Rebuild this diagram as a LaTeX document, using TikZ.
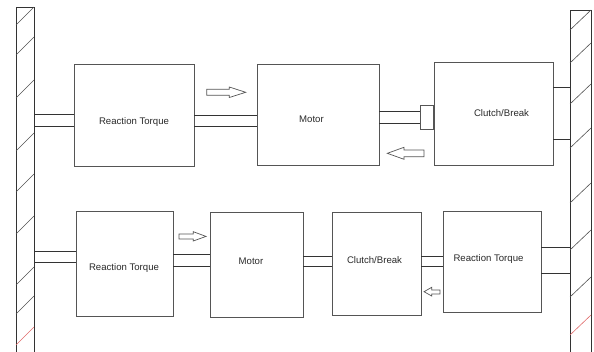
\documentclass[tikz,border=0pt]{standalone}
\usepackage{fontspec}
\setmainfont{Liberation Sans}
\definecolor{boxc}{HTML}{555555}
\definecolor{linec}{HTML}{333333}
\definecolor{txtc}{HTML}{2A2A2A}
\definecolor{hatchred}{HTML}{E06A6A}
\begin{document}
\begin{tikzpicture}[x=1pt,y=-1pt,
  box/.style={draw=boxc, line width=0.8pt, inner sep=0pt, fill=white},
  wall/.style={draw=linec, line width=0.8pt, inner sep=0pt, anchor=north west},
  shaft/.style={draw=linec, line width=0.8pt},
  hatch/.style={draw=linec!85, line width=0.6pt},
  blockarrow/.style={draw=boxc, line width=0.7pt, fill=white, line join=miter},
  lbl/.style={text=txtc, font=\fontsize{9.6}{11}\selectfont, inner sep=0pt}
]
\useasboundingbox (0,0) rectangle (594,351);

% walls
\node[wall, minimum width=18, minimum height=350] (lw) at (16,7) {};
\node[wall, minimum width=21, minimum height=350] (rw) at (570,10) {};
\foreach \t in {7,37,80,133,174,216,267,296}
  \draw[hatch] (16,\t+18) -- (34,\t);
\draw[hatch, draw=hatchred] (16,345) -- (34,327);
\foreach \t in {10,43,84,128,183,230,277}
  \draw[hatch] (570,\t+20) -- (591,\t);
\draw[hatch, draw=hatchred] (570,335) -- (591,315);

% top row
\node[box, minimum width=120, minimum height=102, label={[lbl, yshift=-7pt]center:Reaction Torque}] (rt1) at (134,115) {};
\node[box, minimum width=122, minimum height=101, label={[lbl, xshift=-6.5pt, yshift=-4.5pt]center:Motor}] (m1) at (318,114.5) {};
\node[box, minimum width=119, minimum height=103, label={[lbl, xshift=8pt, yshift=0pt]center:Clutch/Break}] (c1) at (493.5,113.5) {};
\node[box, minimum width=13, minimum height=23.5, anchor=east] (sr) at (c1.west |- 0,117.5) {};

% bottom row
\node[box, minimum width=97, minimum height=105, label={[lbl, xshift=-0.5pt, yshift=-5pt]center:Reaction Torque}] (rt2) at (124.5,263.5) {};
\node[box, minimum width=93, minimum height=105, label={[lbl, xshift=-5.5pt, yshift=3.5pt]center:Motor}] (m2) at (256.5,264.5) {};
\node[box, minimum width=89, minimum height=103, label={[lbl, xshift=-2pt, yshift=3.5pt]center:Clutch/Break}] (c2) at (376.5,263.5) {};
\node[box, minimum width=98, minimum height=101, label={[lbl, xshift=-3.5pt, yshift=2.5pt]center:Reaction Torque}] (rt3) at (492,261.5) {};

% shafts top
\foreach \y in {114,126}
  \draw[shaft] (lw.east |- 0,\y) -- (rt1.west |- 0,\y);
\foreach \y in {115,126.7}
  \draw[shaft] (rt1.east |- 0,\y) -- (m1.west |- 0,\y);
\foreach \y in {111.7,123.3}
  \draw[shaft] (m1.east |- 0,\y) -- (sr.west |- 0,\y);
\foreach \y in {87,139}
  \draw[shaft] (c1.east |- 0,\y) -- (rw.west |- 0,\y);

% shafts bottom
\foreach \y in {251,262.7}
  \draw[shaft] (lw.east |- 0,\y) -- (rt2.west |- 0,\y);
\foreach \y in {254.3,266}
  \draw[shaft] (rt2.east |- 0,\y) -- (m2.west |- 0,\y);
\foreach \y in {256,266.7}
  \draw[shaft] (m2.east |- 0,\y) -- (c2.west |- 0,\y);
\foreach \y in {256.7,266.7}
  \draw[shaft] (c2.east |- 0,\y) -- (rt3.west |- 0,\y);
\foreach \y in {247,273}
  \draw[shaft] (rt3.east |- 0,\y) -- (rw.west |- 0,\y);

% block arrows
\draw[blockarrow] (206.7,89.3) -- (229.3,89.3) -- (229.3,87) -- (245.7,92.3) -- (229.3,97.5) -- (229.3,95.3) -- (206.7,95.3) -- cycle;
\draw[blockarrow] (424,150) -- (404,150) -- (404,147.3) -- (387.3,153.3) -- (404,159.3) -- (404,156.7) -- (424,156.7) -- cycle;
\draw[blockarrow] (179,234) -- (193.3,234) -- (193.3,231.7) -- (206,236.4) -- (193.3,241) -- (193.3,239) -- (179,239) -- cycle;
\draw[blockarrow] (440,290) -- (431.7,290) -- (431.7,287.3) -- (424,291.7) -- (431.7,296) -- (431.7,294) -- (440,294) -- cycle;
\end{tikzpicture}
\end{document}
